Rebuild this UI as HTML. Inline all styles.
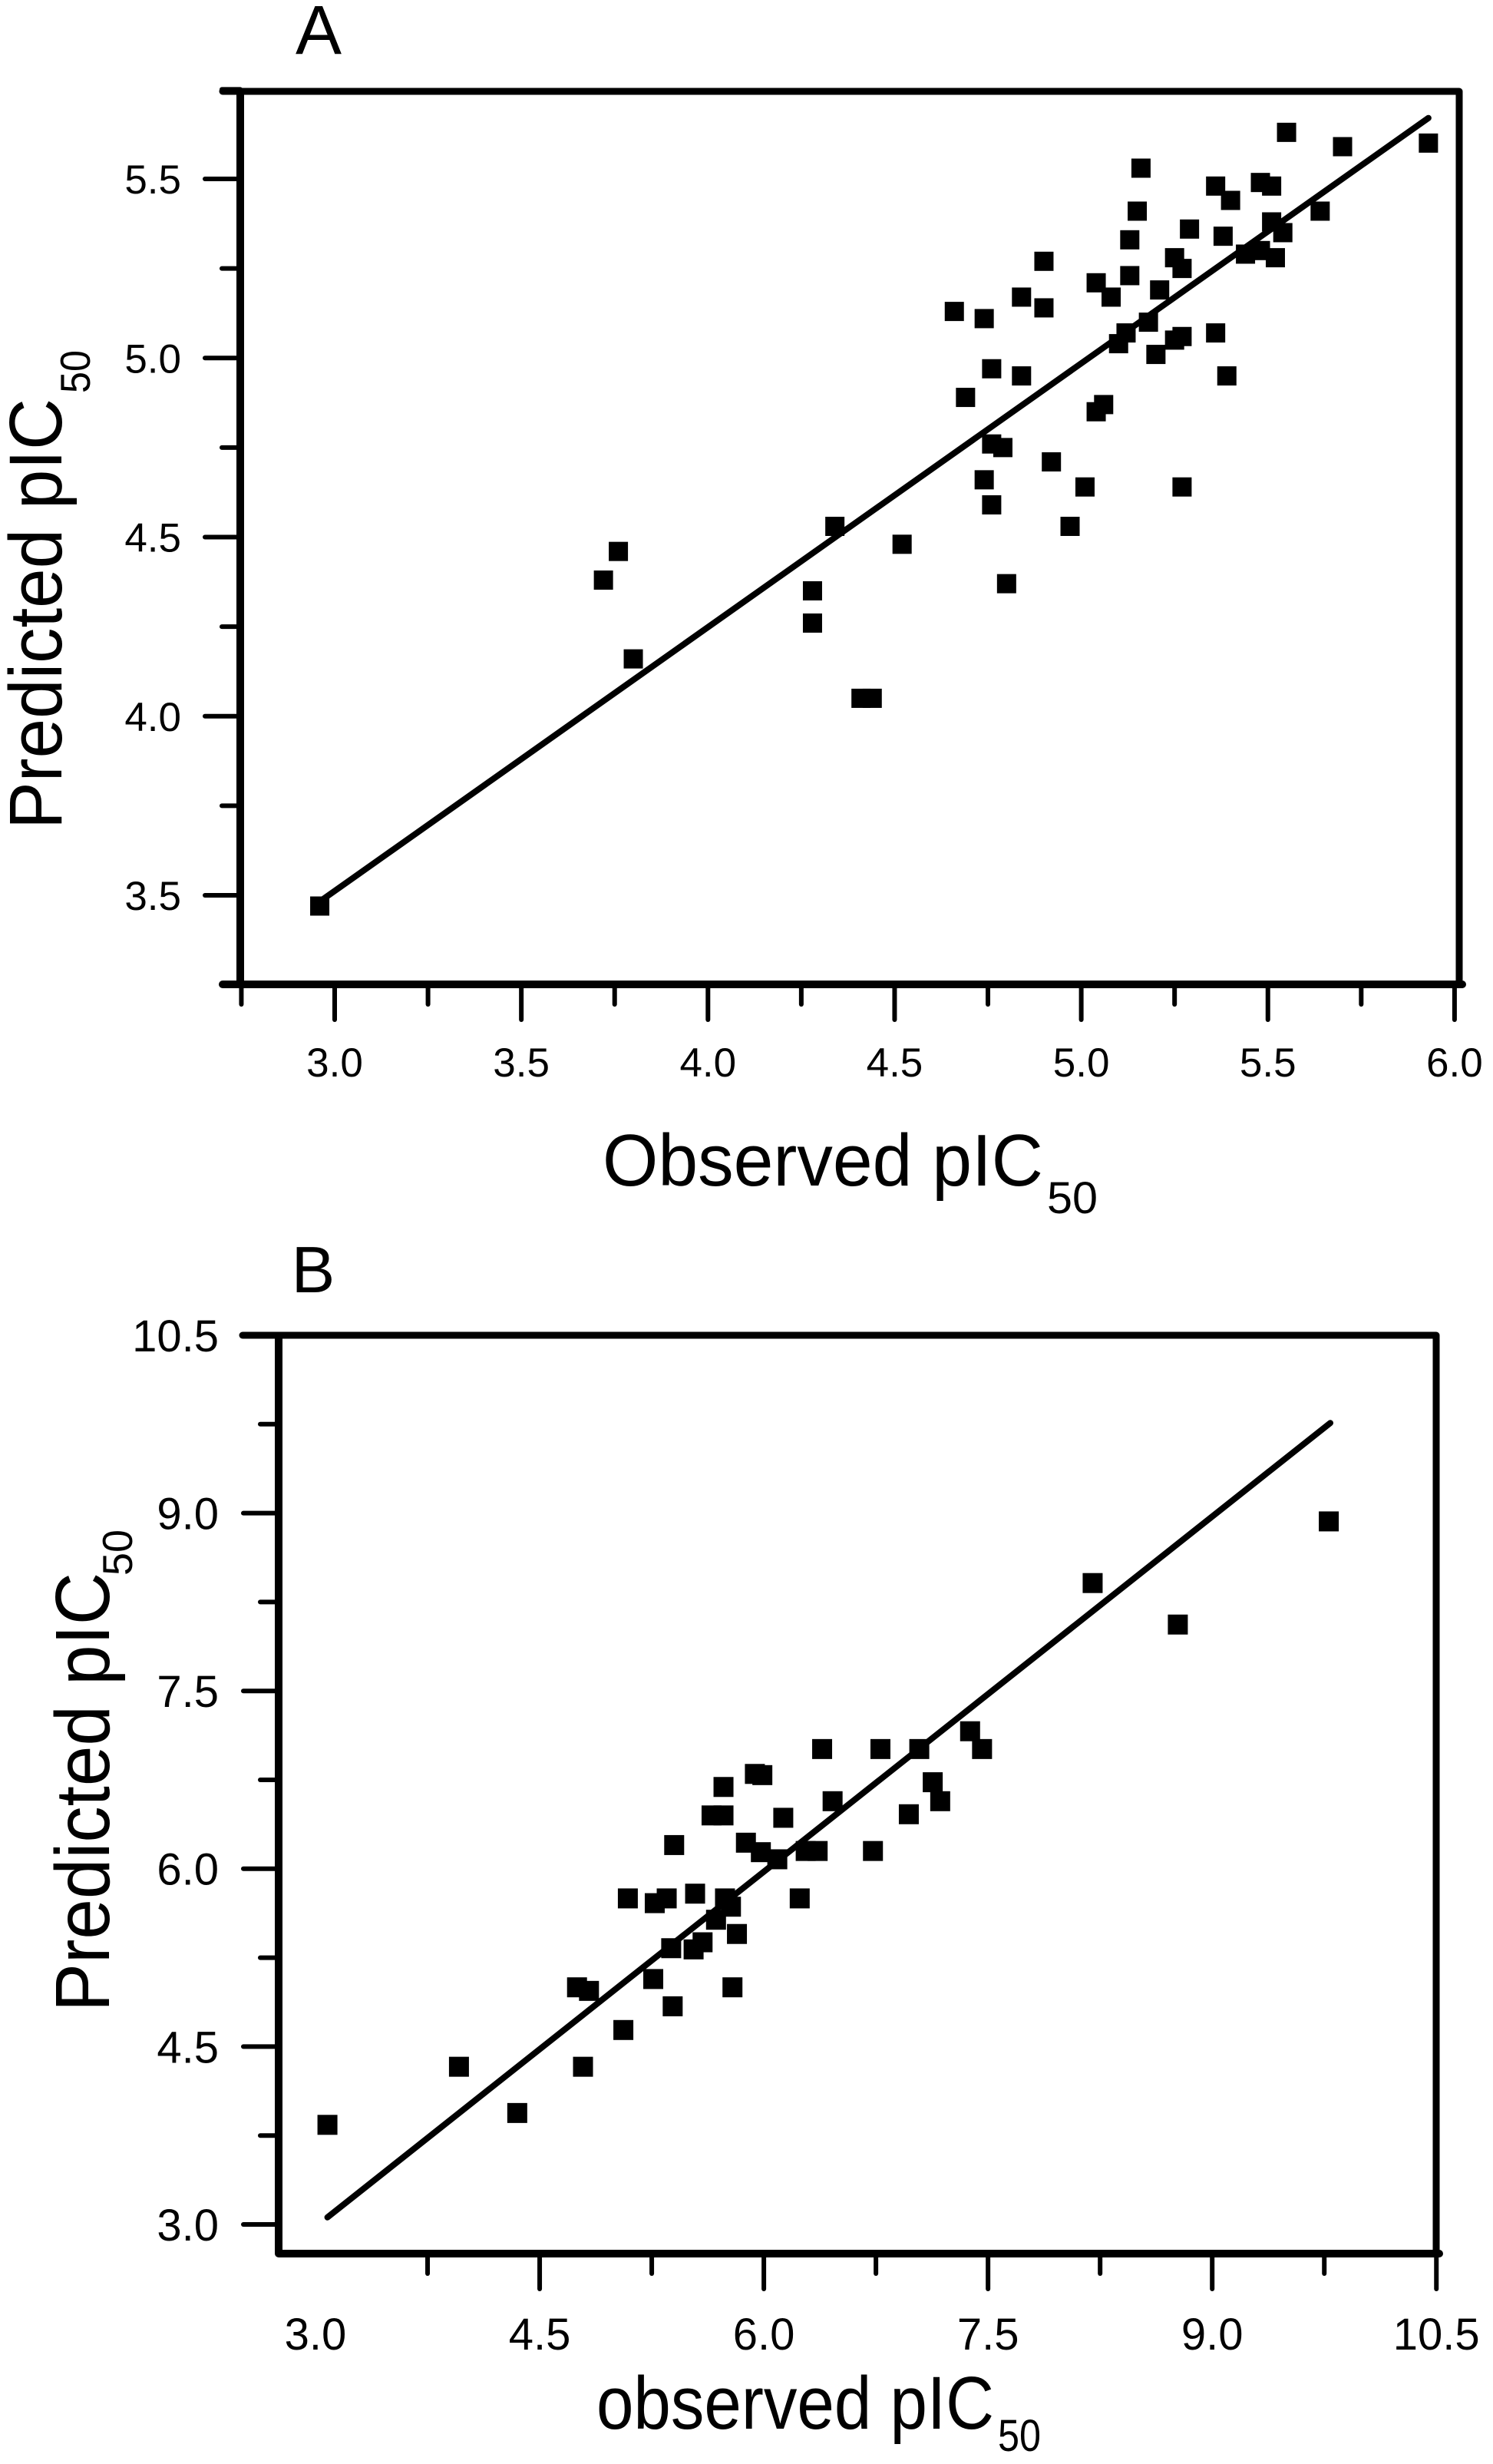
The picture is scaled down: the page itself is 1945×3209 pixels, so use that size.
<!DOCTYPE html>
<html><head><meta charset="utf-8">
<style>
html,body{margin:0;padding:0;background:#fff;}
svg{display:block;font-family:"Liberation Sans",Arial,sans-serif;}
</style></head>
<body>
<svg id="fig" width="1945" height="3209" viewBox="0 0 1945 3209" xmlns="http://www.w3.org/2000/svg">
<rect width="1945" height="3209" fill="#fff"/>
<g id="panelA"></g>
<g id="panelB"></g>
</svg>
<script>
// Panel A data
const aObserved = [2.96,3.72,3.76,3.80,4.28,4.28,4.34,4.41,4.44,4.52,4.66,4.69,4.74,4.76,4.74,4.76,4.76,4.79,4.80,4.84,4.84,4.90,4.90,4.92,4.97,5.01,5.04,5.04,5.06,5.08,5.10,5.12,5.13,5.13,5.15,5.16,5.18,5.20,5.21,5.25,5.25,5.27,5.27,5.27,5.29,5.36,5.36,5.38,5.39,5.40,5.44,5.48,5.48,5.51,5.51,5.52,5.54,5.55,5.64,5.70,5.93];
const aPredicted = [3.47,4.38,4.46,4.16,4.35,4.26,4.53,4.05,4.05,4.48,5.13,4.89,5.11,4.97,4.66,4.59,4.76,4.75,4.37,5.17,4.95,5.27,5.14,4.71,4.53,4.64,5.21,4.85,4.87,5.17,5.04,5.07,5.33,5.23,5.41,5.53,5.10,5.01,5.19,5.28,5.05,5.25,5.06,4.64,5.36,5.48,5.07,5.34,4.95,5.44,5.29,5.49,5.30,5.48,5.38,5.28,5.35,5.63,5.41,5.59,5.60];
const aFitX = [2.97,5.93];
const aFitY = [3.49,5.67];
const aXTicks = ["3.0","3.5","4.0","4.5","5.0","5.5","6.0"];
const aYTicks = ["3.5","4.0","4.5","5.0","5.5"];
// Panel B data
const bObserved = [3.08,3.96,4.35,4.75,4.83,4.79,5.06,5.09,5.26,5.27,5.35,5.38,5.39,5.40,5.53,5.54,5.59,5.65,5.68,5.73,5.73,5.74,5.78,5.79,5.82,5.88,5.94,5.99,5.98,6.09,6.13,6.24,6.28,6.36,6.39,6.46,6.73,6.78,6.97,7.04,7.13,7.18,7.38,7.46,8.20,8.77,9.78];
const bPredicted = [3.84,4.33,3.94,5.00,4.97,4.33,4.64,5.75,5.07,5.71,5.75,5.33,4.84,6.20,5.32,5.79,5.38,6.45,5.57,6.45,6.69,5.75,5.68,5.00,5.45,6.22,6.80,6.79,6.14,6.08,6.43,5.75,6.15,6.15,7.01,6.57,6.15,7.01,6.46,7.01,6.73,6.57,7.16,7.01,8.41,8.06,8.93];
const bFitX = [3.08,9.79];
const bFitY = [3.06,9.76];
const bXTicks = ["3.0","4.5","6.0","7.5","9.0","10.5"];
const bYTicks = ["3.0","4.5","6.0","7.5","9.0","10.5"];

const NS = "http://www.w3.org/2000/svg";
function mk(parent, tag, attrs){
  const e = document.createElementNS(NS, tag);
  for (const k in attrs) e.setAttribute(k, attrs[k]);
  parent.appendChild(e);
  return e;
}

function drawPanel(g, cfg){
  const sx = v => cfg.x0 + (v - cfg.xv0) * cfg.xs;
  const sy = v => cfg.y0 - (v - cfg.yv0) * cfg.ys;
  const L = cfg.left, R = cfg.right, T = cfg.top, B = cfg.bottom;
  // frame
  let e;
  e = mk(g,'line',{x1:cfg.topStart,y1:T,x2:R,y2:T,stroke:'#000','stroke-width':9,'stroke-linecap':'round'});
  
  
  e = mk(g,'line',{x1:R,y1:T,x2:R,y2:B,stroke:'#000','stroke-width':9});
  
  
  e = mk(g,'line',{x1:L,y1:T,x2:L,y2:B,stroke:'#000','stroke-width':10});
  
  
  e = mk(g,'line',{x1:cfg.bottomStart,y1:B,x2:R+4,y2:B,stroke:'#000','stroke-width':10,'stroke-linecap':'round'});
  
  
  // x ticks
  for (let v = cfg.xMinor0; v <= cfg.xMax + 1e-6; v += cfg.xMinorStep){
    const isMaj = cfg.xTicks.some(t => Math.abs(parseFloat(t) - v) < 1e-6);
    const x = sx(v);
    e = mk(g,'line',{x1:x,y1:B,x2:x,y2:B+(isMaj?46:26),stroke:'#000','stroke-width':6,'stroke-linecap':'round'});
    
    
  }
  cfg.xTicks.forEach(t => {
    e = mk(g,'text',{x:sx(parseFloat(t)),y:cfg.xLabY,'font-size':cfg.tickFont,'text-anchor':'middle'});
    e.textContent = t;
    
    
  });
  // y ticks
  for (let v = cfg.yMinor0; v <= cfg.yMax + 1e-6; v += cfg.yMinorStep){
    const isMaj = cfg.yTicks.some(t => Math.abs(parseFloat(t) - v) < 1e-6);
    const y = sy(v);
    e = mk(g,'line',{x1:L,y1:y,x2:L-(isMaj?46:24),y2:y,stroke:'#000','stroke-width':6,'stroke-linecap':'round'});
    
    
  }
  cfg.yTicks.forEach(t => {
    e = mk(g,'text',{x:cfg.yLabX,y:sy(parseFloat(t))+cfg.tickFont*0.36,'font-size':cfg.tickFont,'text-anchor':'end'});
    e.textContent = t;
    
    
  });
  // fit line
  e = mk(g,'line',{x1:sx(cfg.fitX[0]),y1:sy(cfg.fitY[0]),x2:sx(cfg.fitX[1]),y2:sy(cfg.fitY[1]),stroke:'#000','stroke-width':8,'stroke-linecap':'round'});
  
  
  // points
  const s = cfg.marker;
  cfg.xs_.forEach((v,i) => {
    e = mk(g,'rect',{x:sx(v)-s/2,y:sy(cfg.ys_[i])-s/2,width:s,height:s,fill:'#000'});
    
    
  });
}

drawPanel(document.getElementById('panelA'), {
  x0:436, xv0:3.0, xs:486.3, y0:233, yv0:5.5, ys:466.5,
  left:313, right:1901, top:119, bottom:1282, topStart:290, bottomStart:290,
  xMinor0:2.75, xMinorStep:0.25, xMax:6.0, yMinor0:3.25, yMinorStep:0.25, yMax:5.75,
  xTicks:aXTicks, yTicks:aYTicks, xLabY:1402, yLabX:236, tickFont:53,
  fitX:aFitX, fitY:aFitY, xs_:aObserved, ys_:aPredicted, marker:25
});
drawPanel(document.getElementById('panelB'), {
  x0:411, xv0:3.0, xs:194.7, y0:1739, yv0:10.5, ys:154.4,
  left:363, right:1871, top:1739, bottom:2935, topStart:316, bottomStart:363,
  xMinor0:3.75, xMinorStep:0.75, xMax:10.5, yMinor0:3.0, yMinorStep:0.75, yMax:10.5,
  xTicks:bXTicks, yTicks:bYTicks, xLabY:3060, yLabX:285, tickFont:58,
  fitX:bFitX, fitY:bFitY, xs_:bObserved, ys_:bPredicted, marker:26
});
</script>
<svg style="position:absolute;left:0;top:0" width="1945" height="3209" viewBox="0 0 1945 3209" xmlns="http://www.w3.org/2000/svg">
  <text x="415" y="70" font-size="90" text-anchor="middle" font-family="Liberation Sans, sans-serif">A</text>
  <text x="785" y="1544" font-size="96" textLength="574" lengthAdjust="spacingAndGlyphs" font-family="Liberation Sans, sans-serif">Observed pIC</text>
  <text x="1364" y="1580" font-size="58" textLength="66" lengthAdjust="spacingAndGlyphs" font-family="Liberation Sans, sans-serif">50</text>
  <text x="80" y="1080" transform="rotate(-90 80 1080)" font-size="97" textLength="561" lengthAdjust="spacingAndGlyphs" font-family="Liberation Sans, sans-serif">Predicted pIC</text>
  <text x="117" y="512" transform="rotate(-90 117 512)" font-size="55" textLength="56" lengthAdjust="spacingAndGlyphs" font-family="Liberation Sans, sans-serif">50</text>

  <text x="408" y="1683" font-size="85" text-anchor="middle" font-family="Liberation Sans, sans-serif">B</text>
  <text x="777" y="3163" font-size="97" textLength="518" lengthAdjust="spacingAndGlyphs" font-family="Liberation Sans, sans-serif">observed pIC</text>
  <text x="1300" y="3192" font-size="58" textLength="56" lengthAdjust="spacingAndGlyphs" font-family="Liberation Sans, sans-serif">50</text>
  <text x="142" y="2620" transform="rotate(-90 142 2620)" font-size="100" textLength="572" lengthAdjust="spacingAndGlyphs" font-family="Liberation Sans, sans-serif">Predicted pIC</text>
  <text x="172" y="2052" transform="rotate(-90 172 2052)" font-size="55" textLength="60" lengthAdjust="spacingAndGlyphs" font-family="Liberation Sans, sans-serif">50</text>
</svg>
</body></html>
